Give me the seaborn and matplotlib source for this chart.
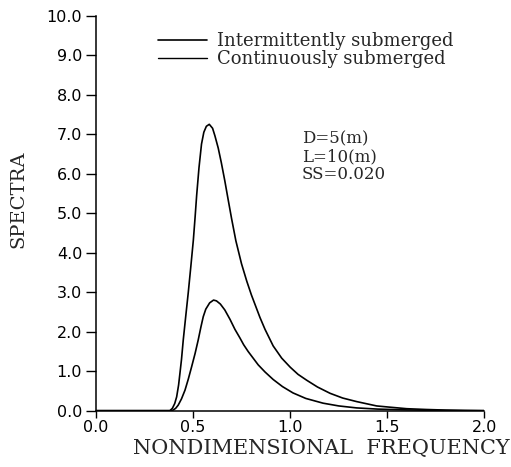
import numpy as np
import pandas as pd
import matplotlib
matplotlib.use("Agg")
import matplotlib.pyplot as plt
import seaborn as sns
from matplotlib.lines import Line2D

# ---- data ----
series_names = ["Intermittently submerged", "Continuously submerged"]

x_inter = [0.0, 0.38, 0.393, 0.405, 0.415, 0.425, 0.432, 0.44, 0.449, 0.462, 0.475, 0.488,
           0.501, 0.51, 0.518, 0.53, 0.543, 0.555, 0.568, 0.583, 0.60, 0.612, 0.629,
           0.645, 0.663, 0.68, 0.698, 0.72, 0.749, 0.776, 0.80, 0.844, 0.87, 0.912,
           0.956, 1.0, 1.04, 1.085, 1.14, 1.205, 1.27, 1.342, 1.445, 1.51, 1.6, 1.7,
           1.8, 1.9, 2.0]
y_inter = [0.0, 0.0, 0.06, 0.18, 0.35, 0.65, 0.95, 1.3, 1.79, 2.4, 3.0, 3.65,
           4.32, 4.9, 5.45, 6.15, 6.75, 7.05, 7.2, 7.25, 7.15, 6.96, 6.65,
           6.28, 5.82, 5.35, 4.86, 4.3, 3.72, 3.28, 2.93, 2.36, 2.06, 1.64,
           1.33, 1.1, 0.92, 0.77, 0.6, 0.44, 0.32, 0.23, 0.12, 0.09, 0.05, 0.03,
           0.015, 0.005, 0.0]

x_cont = [0.0, 0.39, 0.398, 0.41, 0.423, 0.44, 0.458, 0.475, 0.492, 0.51, 0.526, 0.54,
          0.552, 0.565, 0.585, 0.605, 0.62, 0.64, 0.663, 0.69, 0.715, 0.741, 0.76,
          0.783, 0.809, 0.835, 0.87, 0.912, 0.96, 1.014, 1.08, 1.169, 1.25, 1.342,
          1.45, 1.6, 1.8, 2.0]
y_cont = [0.0, 0.0, 0.02, 0.06, 0.14, 0.3, 0.52, 0.8, 1.11, 1.45, 1.79, 2.12,
          2.38, 2.57, 2.73, 2.8, 2.78, 2.7, 2.55, 2.31, 2.06, 1.84, 1.67,
          1.5, 1.33, 1.16, 0.98, 0.79, 0.61, 0.45, 0.31, 0.19, 0.12, 0.07,
          0.04, 0.02, 0.005, 0.0]

x_ticks = [0.0, 0.5, 1.0, 1.5, 2.0]
y_ticks = [0.0, 1.0, 2.0, 3.0, 4.0, 5.0, 6.0, 7.0, 8.0, 9.0, 10.0]
annotation_lines = ["D=5(m)", "L=10(m)", "SS=0.020"]

df = pd.concat([
    pd.DataFrame({"x": x_inter, "y": y_inter, "series": series_names[0]}),
    pd.DataFrame({"x": x_cont, "y": y_cont, "series": series_names[1]}),
], ignore_index=True)

sns.set_style("ticks")
plt.rcParams["font.family"] = ["DejaVu Serif"]

fig = plt.figure(figsize=(5.11, 4.67), dpi=100)
ax = fig.add_axes([0.188, 0.1206, 0.760, 0.8458])

sns.lineplot(data=df, x="x", y="y", hue="series", palette=["black", "black"],
             estimator=None, sort=False, linewidth=1.2, legend=False, ax=ax)

ax.set_xlim(0, 2.0)
ax.set_ylim(0, 10.0)
ax.set_xticks(x_ticks)
ax.set_yticks(y_ticks)
ax.set_xticklabels([f"{v:.1f}" for v in x_ticks], family="DejaVu Sans", fontsize=11.5)
ax.set_yticklabels([f"{v:.1f}" for v in y_ticks], family="DejaVu Sans", fontsize=11.5)
ax.tick_params(axis="y", direction="out", length=7, width=1, pad=3, colors="black")
ax.tick_params(axis="x", direction="out", length=5, width=1, pad=2, colors="black")
for s in ["top", "right"]:
    ax.spines[s].set_visible(False)
for s in ["left", "bottom"]:
    ax.spines[s].set_linewidth(1.1)
    ax.spines[s].set_color("black")

ax.set_xlabel("NONDIMENSIONAL  FREQUENCY", fontsize=15, family="DejaVu Serif")
ax.xaxis.set_label_coords(0.58, -0.072)
ax.set_ylabel("SPECTRA", fontsize=14, family="DejaVu Serif")
ax.yaxis.set_label_coords(-0.178, 0.536)

handles = [Line2D([], [], color="black", lw=1.2), Line2D([], [], color="black", lw=1.0)]
ax.legend(handles, series_names, loc="upper left", bbox_to_anchor=(0.16, 0.958),
          frameon=False, fontsize=13, handlelength=2.7, handletextpad=0.55,
          labelspacing=0.0, borderpad=0, borderaxespad=0)

ax.text(1.06, 7.1, "\n".join(annotation_lines), fontsize=12, va="top", ha="left",
        linespacing=1.05, family="DejaVu Serif")

fig.savefig("out.png", dpi=100)
